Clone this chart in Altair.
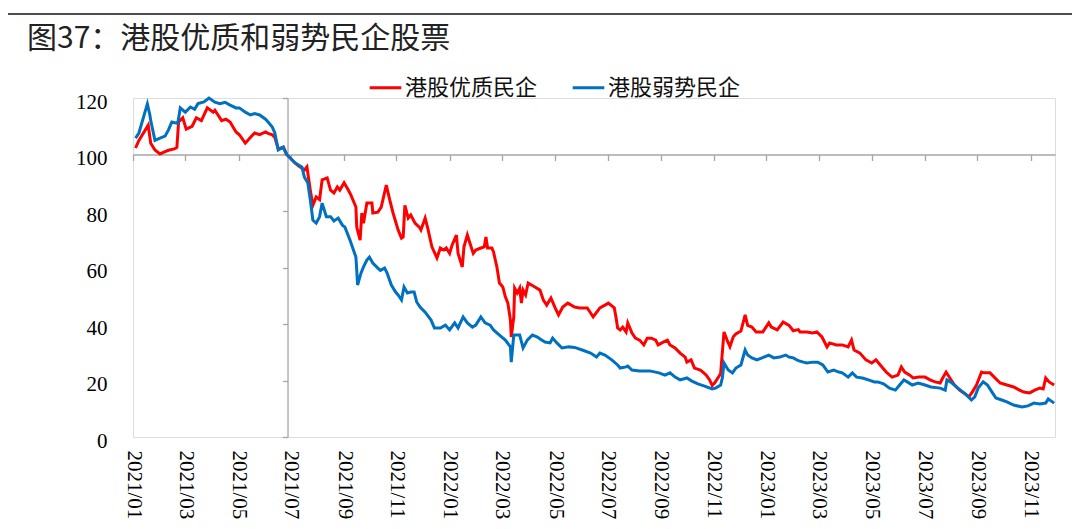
import altair as alt
import pandas as pd

series_names = ["港股优质民企", "港股弱势民企"]
series_colors = ["#FF0000", "#0070C0"]
title_text = "图37：港股优质和弱势民企股票"

red_dates = [
    "2021-01-04", "2021-01-08", "2021-01-19", "2021-01-22", "2021-01-27", "2021-02-02", "2021-02-08",
    "2021-02-12", "2021-02-19", "2021-02-22", "2021-02-24", "2021-03-01", "2021-03-05", "2021-03-12",
    "2021-03-17", "2021-03-23", "2021-03-30", "2021-04-06", "2021-04-08", "2021-04-16", "2021-04-21",
    "2021-04-26", "2021-05-03", "2021-05-07", "2021-05-14", "2021-05-20", "2021-05-25", "2021-05-31",
    "2021-06-07", "2021-06-10", "2021-06-15", "2021-06-18", "2021-06-22", "2021-06-28", "2021-07-02",
    "2021-07-12", "2021-07-16", "2021-07-23", "2021-07-26", "2021-07-30", "2021-08-02", "2021-08-06",
    "2021-08-10", "2021-08-13", "2021-08-19", "2021-08-23", "2021-08-27", "2021-08-31", "2021-09-03",
    "2021-09-08", "2021-09-13", "2021-09-16", "2021-09-22", "2021-09-23", "2021-09-27", "2021-09-29",
    "2021-10-01", "2021-10-05", "2021-10-11", "2021-10-12", "2021-10-18", "2021-10-22", "2021-10-28",
    "2021-11-01", "2021-11-05", "2021-11-11", "2021-11-15", "2021-11-17", "2021-11-19", "2021-11-23",
    "2021-11-26", "2021-12-01", "2021-12-06", "2021-12-08", "2021-12-13", "2021-12-16", "2021-12-21",
    "2021-12-27", "2021-12-31", "2022-01-04", "2022-01-07", "2022-01-11", "2022-01-14", "2022-01-19",
    "2022-01-21", "2022-01-26", "2022-01-28", "2022-02-01", "2022-02-04", "2022-02-08", "2022-02-11",
    "2022-02-17", "2022-02-21", "2022-02-23", "2022-02-25", "2022-03-02", "2022-03-04", "2022-03-08",
    "2022-03-11", "2022-03-15", "2022-03-18", "2022-03-21", "2022-03-24", "2022-03-25", "2022-03-28",
    "2022-03-29", "2022-04-01", "2022-04-04", "2022-04-06", "2022-04-08", "2022-04-11", "2022-04-14",
    "2022-04-22", "2022-04-28", "2022-05-02", "2022-05-06", "2022-05-11", "2022-05-16", "2022-05-20",
    "2022-05-25", "2022-05-31", "2022-06-08", "2022-06-14", "2022-06-23", "2022-06-27", "2022-06-30",
    "2022-07-08", "2022-07-14", "2022-07-18", "2022-07-25", "2022-07-27", "2022-07-29", "2022-08-01",
    "2022-08-04", "2022-08-08", "2022-08-10", "2022-08-15", "2022-08-19", "2022-08-24", "2022-08-29",
    "2022-09-02", "2022-09-07", "2022-09-12", "2022-09-15", "2022-09-21", "2022-09-26", "2022-09-29",
    "2022-10-05", "2022-10-11", "2022-10-17", "2022-10-19", "2022-10-24", "2022-10-28", "2022-11-04",
    "2022-11-07", "2022-11-11", "2022-11-15", "2022-11-18", "2022-11-21", "2022-11-25", "2022-11-28",
    "2022-11-30", "2022-12-02", "2022-12-06", "2022-12-09", "2022-12-13", "2022-12-16", "2022-12-22",
    "2022-12-27", "2022-12-30", "2023-01-04", "2023-01-09", "2023-01-17", "2023-01-24", "2023-01-27",
    "2023-02-03", "2023-02-10", "2023-02-17", "2023-02-22", "2023-02-28", "2023-03-02", "2023-03-10",
    "2023-03-17", "2023-03-22", "2023-03-28", "2023-04-03", "2023-04-06", "2023-04-14", "2023-04-21",
    "2023-04-28", "2023-05-02", "2023-05-05", "2023-05-12", "2023-05-19", "2023-05-26", "2023-05-31",
    "2023-06-05", "2023-06-12", "2023-06-19", "2023-06-26", "2023-06-30", "2023-07-04", "2023-07-10",
    "2023-07-14", "2023-07-21", "2023-07-28", "2023-08-03", "2023-08-09", "2023-08-15", "2023-08-18",
    "2023-08-22", "2023-08-28", "2023-09-01", "2023-09-07", "2023-09-12", "2023-09-18", "2023-09-22",
    "2023-09-27", "2023-10-03", "2023-10-06", "2023-10-13", "2023-10-18", "2023-10-25", "2023-11-02",
    "2023-11-10", "2023-11-17", "2023-11-22", "2023-11-29", "2023-12-05", "2023-12-11", "2023-12-15",
    "2023-12-18", "2023-12-22", "2023-12-28",
]
red_values = [
    102.3, 105, 110.4, 104, 101.6, 100.2, 101,
    101.5, 102, 102.5, 111.5, 113, 109, 110,
    113, 112, 116.5, 115, 115.7, 112, 112.5,
    111.5, 108, 107, 104, 106, 107.6, 107,
    108, 107.5, 107, 106, 102, 102.6, 100,
    97, 96, 94.5, 95.6, 87.4, 82, 85,
    84, 91, 91.7, 87.4, 86.4, 88.5, 87.4,
    90, 87.4, 85.7, 81.4, 74.3, 69.7, 79.3,
    75.7, 82.8, 82.8, 79.3, 79.6, 81.4, 89.2,
    84, 79.3, 73.3, 70.4, 70.8, 82, 77.5,
    78.6, 75.7, 74.3, 73.3, 77.5, 74, 67.3,
    63.4, 66.9, 66.2, 66.9, 65, 68, 71.5,
    65, 60.2, 67.3, 71.5, 68.7, 65, 66.2,
    66.9, 67.3, 70.8, 66.9, 66.9, 65.5, 60.2,
    54.5, 53.1, 49.6, 47.4, 41.4, 35.4, 42.5,
    52.7, 51, 52.7, 47.4, 52, 50.3, 54.5,
    53.1, 52, 48.5, 46.7, 49.2, 45.7, 43.2,
    46, 47.4, 46, 45.7, 45.7, 43.9, 42.5,
    45.7, 46.7, 47.4, 45.7, 42.5, 38.6, 37.9,
    38.9, 37.2, 40.4, 36.8, 35, 34.3, 32.6,
    35, 35, 34.3, 32.6, 33.6, 34.3, 32.6,
    31.5, 29.7, 28.3, 26.5, 27.3, 24.4, 23.7,
    23, 21.9, 20.2, 18.2, 19.2, 21, 22.5,
    30, 37.2, 34, 32, 35.5, 36.5, 37.5,
    43.2, 39.5, 38.9, 37.2, 37.2, 40.4, 38.9,
    37.9, 40.7, 39.5, 37.6, 38, 37.2, 37.2,
    36.8, 37.2, 35.4, 31.9, 33.3, 32.6, 32.6,
    31.9, 34.3, 30.8, 29.7, 27.3, 26.2, 27.3,
    25.5, 23, 21.2, 21.9, 24.8, 23, 21.9,
    20.9, 21.2, 21.2, 20.2, 19.5, 19.1, 20.9,
    23, 20.2, 18.4, 16.6, 15.6, 14.2, 15.9,
    18.4, 23, 22.7, 22.7, 21.2, 19.1, 18.4,
    17.7, 16.6, 15.9, 15.6, 16.6, 17.3, 17,
    20.9, 19.5, 18.4,
]

blue_dates = [
    "2021-01-04", "2021-01-08", "2021-01-18", "2021-01-21", "2021-01-22", "2021-01-27", "2021-02-02",
    "2021-02-08", "2021-02-12", "2021-02-16", "2021-02-23", "2021-02-26", "2021-03-04", "2021-03-10",
    "2021-03-15", "2021-03-19", "2021-03-26", "2021-04-01", "2021-04-08", "2021-04-14", "2021-04-20",
    "2021-04-26", "2021-05-03", "2021-05-07", "2021-05-14", "2021-05-20", "2021-05-25", "2021-05-31",
    "2021-06-07", "2021-06-10", "2021-06-15", "2021-06-18", "2021-06-22", "2021-06-28", "2021-07-02",
    "2021-07-12", "2021-07-20", "2021-07-23", "2021-07-27", "2021-07-30", "2021-08-02", "2021-08-06",
    "2021-08-10", "2021-08-13", "2021-08-18", "2021-08-23", "2021-08-27", "2021-09-01", "2021-09-06",
    "2021-09-09", "2021-09-15", "2021-09-17", "2021-09-22", "2021-09-23", "2021-09-24", "2021-09-28",
    "2021-10-01", "2021-10-05", "2021-10-08", "2021-10-12", "2021-10-18", "2021-10-21", "2021-10-26",
    "2021-10-29", "2021-11-03", "2021-11-08", "2021-11-11", "2021-11-15", "2021-11-18", "2021-11-22",
    "2021-11-26", "2021-11-30", "2021-12-03", "2021-12-07", "2021-12-13", "2021-12-20", "2021-12-24",
    "2021-12-31", "2022-01-06", "2022-01-11", "2022-01-17", "2022-01-21", "2022-01-27", "2022-02-01",
    "2022-02-07", "2022-02-11", "2022-02-17", "2022-02-22", "2022-02-28", "2022-03-04", "2022-03-11",
    "2022-03-18", "2022-03-24", "2022-03-25", "2022-03-28", "2022-04-04", "2022-04-08", "2022-04-13",
    "2022-04-19", "2022-04-25", "2022-04-29", "2022-05-04", "2022-05-10", "2022-05-13", "2022-05-18",
    "2022-05-24", "2022-06-01", "2022-06-08", "2022-06-17", "2022-06-27", "2022-07-04", "2022-07-08",
    "2022-07-14", "2022-07-22", "2022-07-29", "2022-08-01", "2022-08-08", "2022-08-10", "2022-08-15",
    "2022-08-24", "2022-09-05", "2022-09-16", "2022-09-23", "2022-09-29", "2022-10-05", "2022-10-11",
    "2022-10-19", "2022-10-25", "2022-11-01", "2022-11-09", "2022-11-18", "2022-11-22", "2022-11-28",
    "2022-11-30", "2022-12-02", "2022-12-07", "2022-12-12", "2022-12-16", "2022-12-22", "2022-12-27",
    "2022-12-30", "2023-01-04", "2023-01-10", "2023-01-16", "2023-01-24", "2023-01-30", "2023-02-06",
    "2023-02-13", "2023-02-17", "2023-02-22", "2023-02-28", "2023-03-06", "2023-03-10", "2023-03-17",
    "2023-03-23", "2023-03-29", "2023-04-04", "2023-04-11", "2023-04-17", "2023-04-21", "2023-04-28",
    "2023-05-03", "2023-05-08", "2023-05-15", "2023-05-22", "2023-05-29", "2023-06-02", "2023-06-09",
    "2023-06-16", "2023-06-23", "2023-06-28", "2023-07-03", "2023-07-07", "2023-07-13", "2023-07-20",
    "2023-07-28", "2023-08-04", "2023-08-15", "2023-08-21", "2023-08-23", "2023-08-29", "2023-09-05",
    "2023-09-11", "2023-09-15", "2023-09-21", "2023-09-25", "2023-09-29", "2023-10-05", "2023-10-10",
    "2023-10-16", "2023-10-20", "2023-10-27", "2023-11-02", "2023-11-10", "2023-11-20", "2023-11-27",
    "2023-12-04", "2023-12-11", "2023-12-18", "2023-12-21", "2023-12-28",
]
blue_values = [
    105.8, 107.6, 117.9, 114, 112, 105, 105.8,
    106.5, 108.7, 111.5, 111, 116.5, 115, 116.8,
    116, 118, 118.6, 120, 118.5, 118, 118.5,
    117.5, 116.5, 116.5, 115, 114, 114.5, 114,
    112.5, 111.5, 109.7, 107.6, 101.6, 102.6, 100,
    97, 95.6, 92, 90, 84, 76.8, 75.7,
    78, 82.8, 78, 78, 76.5, 77.5, 75,
    74.3, 69.7, 68, 63.7, 59, 53.8, 58,
    60.2, 62.6, 63.7, 61.6, 59.8, 59, 59.8,
    58, 53.8, 51.3, 50.3, 48.5, 53.1, 51,
    51.3, 51.3, 47.8, 46, 44.2, 41.4, 38.6,
    38.6, 39.6, 37.9, 40.4, 38.6, 42.5, 40.4,
    38.9, 39.6, 42.5, 40.4, 39.6, 37.9, 36.1,
    34.3, 31.9, 26.5, 36.1, 36.1, 31.5, 34.3,
    36.1, 35.4, 34.5, 33.6, 33.3, 35, 33.3,
    31.5, 31.9, 31.7, 30.8, 29.7, 28.3, 29.7,
    29, 27.3, 25.5, 24.4, 24.8, 25.1, 23.7,
    23.4, 23.4, 22.7, 21.9, 22.7, 21.2, 20.2,
    20.9, 19.8, 18.8, 18, 17, 17.3, 18.4,
    20.9, 26.2, 23.7, 22.7, 24.4, 25.5, 30.8,
    29, 28, 27.3, 28, 29, 28, 28.3,
    29, 28.3, 28, 27, 26.5, 26.2, 26.5,
    26.5, 25.5, 23, 23.7, 23, 22.7, 21.2,
    22.7, 21.2, 20.9, 20.2, 19.5, 19.5, 18.8,
    17.3, 16.6, 18.4, 20.2, 19.5, 18.4, 19.1,
    18.4, 17.7, 17.3, 16.6, 20.2, 19.1, 17.3,
    15.9, 14.9, 13.1, 14.2, 17.3, 19.5, 18.4,
    15.6, 13.8, 13.1, 12.4, 11.3, 10.6, 11,
    12, 11.7, 12, 13.5, 12,
]

y_ticks = [0, 20, 40, 60, 80, 100, 120]
# category-axis style ticks: evenly spaced (every ~42 trading days), labelled yyyy/mm
x_tick_dates = [
    "2021-01-01", "2021-03-04", "2021-05-06", "2021-07-07", "2021-09-08", "2021-11-09",
    "2022-01-11", "2022-03-14", "2022-05-16", "2022-07-17", "2022-09-18", "2022-11-20",
    "2023-01-21", "2023-03-24", "2023-05-26", "2023-07-28", "2023-09-28", "2023-11-30",
]

red_df = pd.DataFrame({"date": red_dates, "value": red_values, "series": series_names[0]})
blue_df = pd.DataFrame({"date": blue_dates, "value": blue_values, "series": series_names[1]})
df = pd.concat([red_df, blue_df], ignore_index=True)

W, H = 922, 339
start = pd.Timestamp("2021-01-01")
end = pd.Timestamp("2023-12-29")
cross_date = pd.Timestamp("2021-07-03")
y_axis_offset = -((cross_date - start).days / (end - start).days) * W
x_axis_offset = -(H * 100 / 120)


def dt(s):
    t = pd.Timestamp(s)
    return alt.DateTime(year=t.year, month=t.month, date=t.day, utc=True)


x_scale = alt.Scale(type="utc", domain=[dt(start), dt(end)])
y_scale = alt.Scale(domain=[0, 120], nice=False, zero=False)
tick_vals = [dt(s) for s in x_tick_dates]

label_font = "Liberation Serif"
axis_gray = "#A6A6A6"

color_enc = alt.Color(
    "series:N",
    scale=alt.Scale(domain=series_names, range=series_colors),
    sort=series_names,
    legend=alt.Legend(orient="none", legendX=235, legendY=-28, direction="horizontal",
                      title=None, symbolType="stroke", symbolStrokeWidth=3,
                      symbolSize=1000, labelFont="Noto Sans CJK SC", labelFontSize=22,
                      labelColor="#111111", columnPadding=28, labelOffset=2, padding=0),
)

x_label_axis = alt.Axis(orient="bottom", values=tick_vals, format="%Y/%m", labelAngle=90,
                        domain=False, ticks=False, tickSize=0, grid=False,
                        labelFont=label_font, labelFontSize=21, labelColor="#000000",
                        labelPadding=13, labelOverlap=False, labelFlush=False)
y_label_axis = alt.Axis(orient="left", values=y_ticks, domain=False, ticks=False, tickSize=0,
                        grid=False, labelFont=label_font, labelFontSize=21, labelColor="#000000",
                        labelPadding=26, labelOffset=4)

red_line = alt.Chart(red_df).mark_line(strokeWidth=3, clip=False).encode(
    x=alt.X("date:T", scale=x_scale, title=None, axis=x_label_axis),
    y=alt.Y("value:Q", scale=y_scale, title=None, axis=y_label_axis),
    color=color_enc,
)
blue_line = alt.Chart(blue_df).mark_line(strokeWidth=3, clip=False).encode(
    x=alt.X("date:T", scale=x_scale, title=None, axis=None),
    y=alt.Y("value:Q", scale=y_scale, title=None, axis=None),
    color=color_enc,
)

axes_layer = alt.Chart(df).mark_line(opacity=0).encode(
    x=alt.X("date:T", scale=x_scale, title=None,
            axis=alt.Axis(orient="bottom", offset=x_axis_offset, values=tick_vals, labels=False,
                          domain=True, domainColor=axis_gray, domainWidth=1.3,
                          ticks=True, tickColor=axis_gray, tickSize=6, tickWidth=1.3, grid=False)),
    y=alt.Y("value:Q", scale=y_scale, title=None,
            axis=alt.Axis(orient="left", offset=y_axis_offset, values=y_ticks, labels=False,
                          domain=True, domainColor=axis_gray, domainWidth=1.3,
                          ticks=True, tickColor=axis_gray, tickSize=5, tickWidth=1.3, grid=False)),
    detail="series:N",
)

top_rule = alt.Chart(df).mark_rule(color="#4D4D4D", strokeWidth=2).encode(
    x=alt.value(-127), x2=alt.value(939), y=alt.value(-84)
)

chart = alt.layer(axes_layer, red_line, blue_line, top_rule).resolve_axis(
    x="independent", y="independent"
).properties(
    width=W, height=H,
    autosize=alt.AutoSizeParams(type="none"),
    padding={"left": 125, "top": 90, "right": 17, "bottom": 84},
    title=alt.TitleParams(title_text, anchor="start", frame="group", dx=-106, dy=41, offset=0,
                          font="Noto Sans CJK SC", fontSize=30, fontWeight="normal",
                          color="#222222"),
).configure_view(stroke=None).configure(background="white")

chart.save("out.html", embed_options={"renderer": "svg", "actions": False})
